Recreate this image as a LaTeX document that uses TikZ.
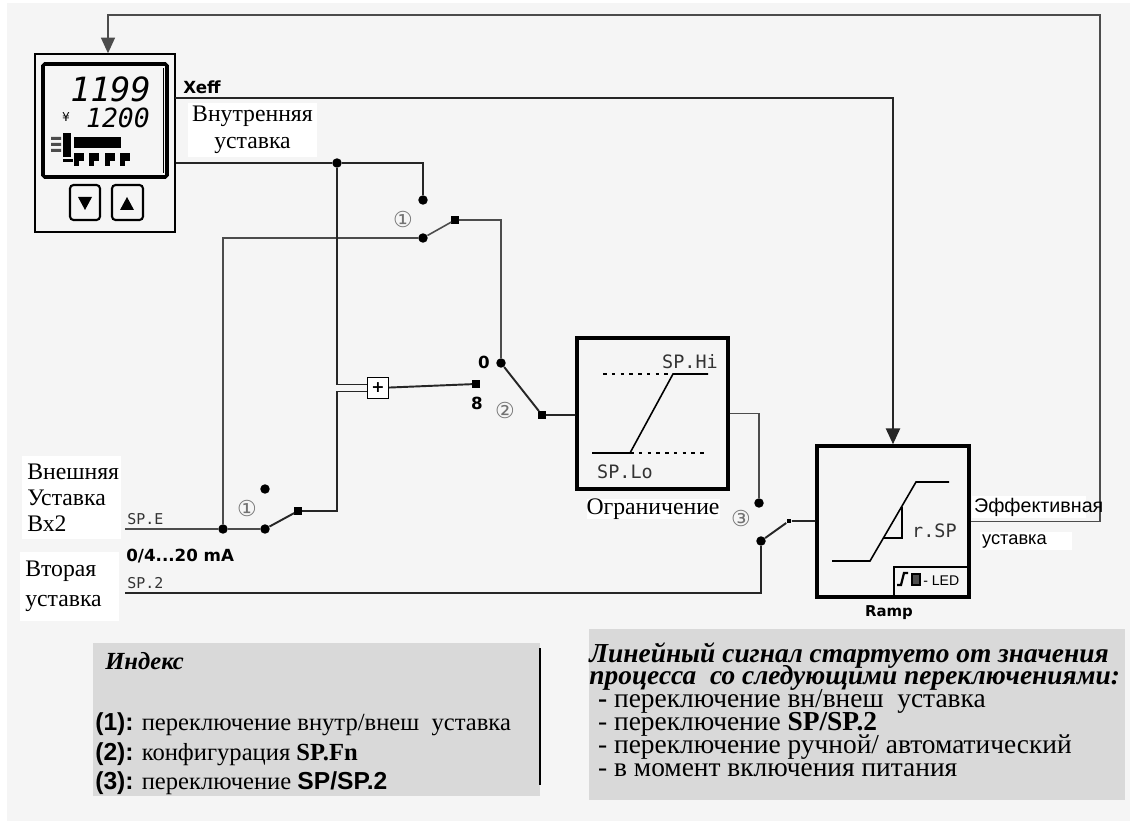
\documentclass[tikz,border=0pt]{standalone}
\usepackage{fontspec}
\setmainfont{Liberation Serif}
\setsansfont{Liberation Sans}
\newfontfamily\dejavu{DejaVu Sans}
\newfontfamily\segfont{DejaVu Sans Mono}
\usetikzlibrary{arrows.meta, calc}

\definecolor{paper}{HTML}{F5F5F5}
\definecolor{panel}{HTML}{D9D9D9}
\newcommand\tightlines{\lineskiplimit=-20pt\relax}

\begin{document}
\begin{tikzpicture}[x=0.02cm, y=-0.02cm,
    wire/.style={line width=1.1pt, black!85},
    thinwire/.style={line width=0.9pt, black!70},
    dot/.style={circle, fill=black, inner sep=0pt, minimum size=5.4pt},
    sq/.style={rectangle, fill=black, inner sep=0pt, minimum size=4pt},
    blk/.style={draw, line width=2pt, fill=paper, inner sep=0pt},
    tag/.style={font=\dejavu\bfseries\fontsize{9.5}{10}\selectfont},
    seg/.style={font=\segfont\fontsize{8.5}{9}\selectfont, black!80},
    bigseg/.style={font=\segfont\fontsize{10.5}{11}\selectfont, black!80},
    circnum/.style={font=\dejavu\fontsize{12.5}{12.5}\selectfont, black!55, inner sep=0pt},
    lbl/.style={fill=white, inner sep=0pt, font=\fontsize{13.5}{15.3}\selectfont},
    effbox/.style={fill=white, inner sep=1pt, anchor=west, align=left, font=\sffamily\fontsize{11.2}{12}\selectfont},
    tip/.style={-{Triangle[length=9pt, width=8pt]}}]

  % page and background
  \useasboundingbox (0,0) rectangle (1130,821);
  \fill[white] (0,0) rectangle (1130,821);
  \fill[paper] (7,3) rectangle (1130,821);

  % controller front
  \node[draw, line width=0.8pt, minimum width=2.8cm, minimum height=3.56cm, inner sep=0pt] (dev) at (105,143) {};
  \draw[line width=2pt, rounded corners=1pt] (43,64) rectangle (167,177);
  \draw[line width=0.4pt] (163,68) -- (163,173);
  \node[anchor=base east, inner sep=0pt, font=\segfont\itshape\fontsize{19}{19}\selectfont] (pv) at (151,102) {1199};
  \node[anchor=base east, inner sep=0pt, font=\segfont\itshape\fontsize{15}{15}\selectfont] (sp) at (150,128) {1200};
  \node[inner sep=0pt, font=\dejavu\fontsize{7}{7}\selectfont] (spsym) at (66,117) {¥};
  % bargraph and status icons
  \fill[black!70] (51,137) rectangle (61,140) (51,143) rectangle (61,146) (51,149) rectangle (61,152);
  \fill (63,133) rectangle (71,157);
  \fill (74,137) rectangle (121,148);
  \fill (63,159) rectangle (73,162);
  \foreach \x in {74,89,105,120} {
    \fill (\x,153) rectangle ++(10,8);
    \fill (\x,161) rectangle ++(5,5);
  }
  % keys
  \draw[line width=1.2pt, rounded corners=2pt] (70,185) rectangle (100,220);
  \draw[line width=1.2pt, rounded corners=2pt] (112,185) rectangle (143,220);
  \fill (78,197) -- (92,197) -- (85,210) -- cycle;
  \fill (120,210) -- (134,210) -- (127,197) -- cycle;

  % switches and junctions
  \node[dot] (j1) at (337,163) {};
  \node[dot] (s1a) at (423,200) {};
  \node[dot] (s1b) at (423,238) {};
  \node[sq] (s1o) at (455,220) {};
  \node[circnum] at (403,220) {①};

  \node[dot] (jE) at (223,529) {};
  \node[dot] (s1e) at (265,529) {};
  \node[dot] (s1i) at (265,489) {};
  \node[sq] (s1eo) at (298,511) {};
  \node[circnum] at (247,508) {①};

  \node[draw, fill=white, line width=0.8pt, minimum size=0.42cm, inner sep=0pt,
        font=\dejavu\bfseries\fontsize{9}{9}\selectfont] (sum) at (378,388) {+};

  \node[dot] (s2a) at (501,363) {};
  \node[sq] (s2b) at (476,384) {};
  \node[sq] (s2o) at (542,415) {};
  \node[tag] at (484,362) {0};
  \node[tag] at (477,403) {8};
  \node[circnum] at (505,410) {②};

  \node[dot] (s3a) at (759,503) {};
  \node[dot] (s3b) at (761,541) {};
  \node[sq, minimum size=2.8pt] (s3o) at (789,521) {};
  \node[circnum] at (741,518) {③};

  % limiter
  \node[blk, minimum size=3.02cm] (lim) at (652.5,413.5) {};
  \draw[line width=0.9pt, dash pattern=on 2pt off 3pt] (603,374) -- (673,374);
  \draw[line width=0.9pt] (708,374) -- (673,374) -- (630,453) -- (592,453);
  \draw[line width=0.9pt, dash pattern=on 2pt off 3pt] (630,453) -- (708,453);
  \node[bigseg, anchor=base west] at (656,368) {SP.Hi};
  \node[bigseg, anchor=base west] at (591,478) {SP.Lo};
  \node[lbl] at (653,509) {Ограничение};

  % ramp
  \node[blk, minimum width=3.04cm, minimum height=3.02cm] (ramp) at (893,521.5) {};
  \draw[line width=0.9pt] (832,561) -- (870,561) -- (916,482) -- (949,482);
  \draw[line width=0.9pt] (902,507) -- (902,538) -- (883,538);
  \node[bigseg, anchor=base west] at (906,537) {r.SP};
  \draw[line width=1.2pt] (894,597) |- (969,567);
  \draw[line width=1.3pt] (897,585) -- (901,585) -- (904,573) -- (908,573);
  \filldraw[fill=black!70, line width=0.6pt] (912,574) rectangle (920,585);
  \node[font=\sffamily\fontsize{8}{8}\selectfont, anchor=base west, inner sep=0pt] at (923,585) {- LED};
  \node[font=\dejavu\bfseries\fontsize{8.5}{9}\selectfont] at (889,613) {Ramp};

  % signal lines
  \coordinate (xeff) at (175,98);
  \coordinate (speIn) at (125,529);
  \coordinate (sp2In) at (125,593);
  \coordinate (fb) at (1100,15);
  \draw[wire, tip] (xeff) -| (ramp.north);
  \draw[wire] (dev.east |- j1) -- (j1) -| (s1a);
  \draw[thinwire] (s1b) -- (s1o) -| (s2a);
  \draw[thinwire] (s1b) -| (jE);
  \draw[wire] (j1) |- ($(sum.west)+(0,-3.5)$);
  \draw[wire] (s1eo) -| ($(j1 |- sum.west)+(0,3.5)$) -- ($(sum.west)+(0,3.5)$);
  \draw[wire] (sum) -- (s2b);
  \draw[wire] (s2a) -- (s2o) -- (s2o -| lim.west);
  \draw[thinwire] (lim.east) -| (s3a);
  \draw[wire] (s3b) -- (s3o) -- (s3o -| ramp.west);
  \draw[thinwire] (speIn) -- (jE) -- (s1e);
  \draw[wire] (s1e) -- (s1eo);
  \draw[wire, line width=1.5pt] (sp2In) -| (s3b);
  \draw[thinwire, tip] (ramp.east) -| (fb) -| ($(dev.north)+(3,0)$);

  % line labels
  \node[tag, anchor=base west, inner sep=0pt] at (183,94) {Xeff};
  \node[seg, anchor=base west, inner sep=0pt] at (127,524) {SP.E};
  \node[tag, anchor=base west, inner sep=0pt] at (126,561) {0/4...20 mA};
  \node[seg, anchor=base west, inner sep=0pt] at (127,588) {SP.2};
  \node[lbl, text width=2.58cm, minimum height=1.08cm, align=center] at (252.5,130) {Внутренняя\\уставка};
  \node[lbl, text width=1.98cm, minimum height=1.66cm, align=left, font=\fontsize{13.5}{14.8}\selectfont] at (71.5,497.5) {\hspace{3pt}Внешняя\\\hspace{3pt}Уставка\\\hspace{3pt}Вх2};
  \node[lbl, text width=1.98cm, minimum height=1.38cm, align=left, font=\fontsize{13.5}{17}\selectfont] at (69.5,586.5) {\hspace{3pt}Вторая\\\hspace{3pt}уставка};
  \node[effbox, text width=2.2cm] at (972,507) {Эффективная};
  \node[effbox, text width=1.76cm, font=\sffamily\fontsize{10.4}{11}\selectfont] at (980,541) {уставка};

  % index panel
  \fill[panel] (93,643) rectangle (540,796);
  \draw[line width=1.2pt] (540,648) -- (540,785);
  \node[anchor=base west, inner sep=0pt, font=\bfseries\itshape\fontsize{14}{14}\selectfont] at (105,669) {Индекс};
  \node[anchor=north west, inner sep=0pt, align=left, font=\fontsize{14}{17}\selectfont] (idx) at (95,712)
    {{\sffamily\bfseries (1):} переключение внутр/внеш\ \ уставка\\
     {\sffamily\bfseries (2):} конфигурация \textbf{SP.Fn}\\
     {\sffamily\bfseries (3):} переключение {\sffamily\bfseries SP/SP.2}};

  % ramp start panel
  \fill[panel] (589,629) rectangle (1125,800);
  \node[anchor=north west, inner sep=0pt, align=left,
        font=\fontsize{15.6}{13}\selectfont\tightlines] (note) at (589,642)
    {\textbf{\textit{Линейный сигнал стартуето от значения}}\\
     \textbf{\textit{процесса\ \ со следующими переключениями:}}\\
     \hspace{5pt}\textbf{-} переключение вн/внеш\ \ уставка\\
     \hspace{5pt}- переключение \textbf{SP/SP.2}\\
     \hspace{5pt}- переключение ручной/ автоматический\\
     \hspace{5pt}- в момент включения питания};
\end{tikzpicture}
\end{document}
